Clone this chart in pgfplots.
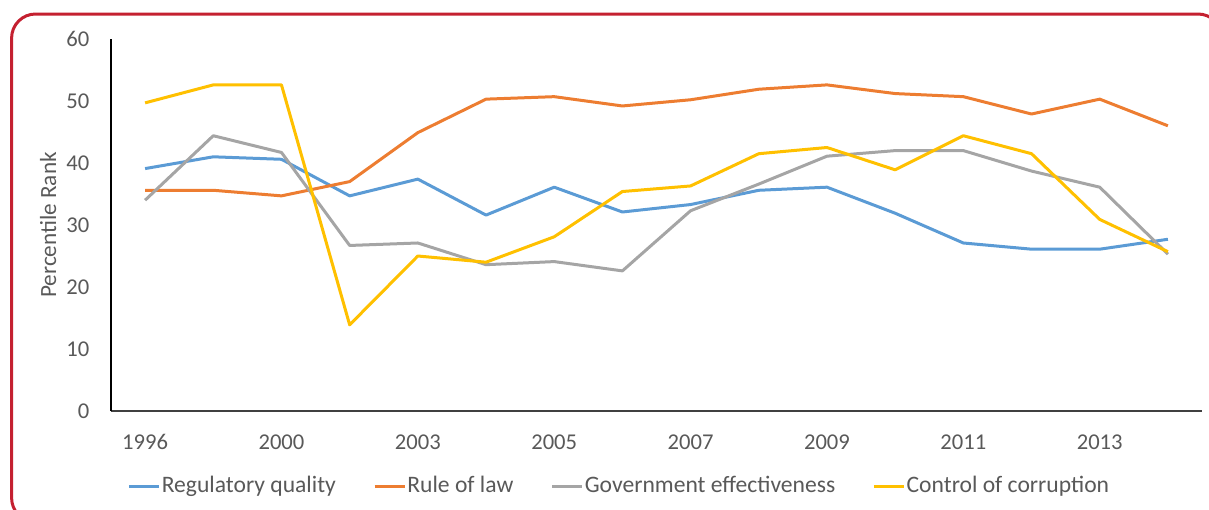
\documentclass[border=0pt]{standalone}
\usepackage{fontspec}
\setmainfont{Carlito}
\usepackage{pgfplots}
\pgfplotsset{compat=1.18}
\definecolor{cblue}{HTML}{5B9BD5}
\definecolor{corange}{HTML}{ED7D31}
\definecolor{cgray}{HTML}{A5A5A5}
\definecolor{cyellow}{HTML}{FFC000}
\definecolor{ctext}{HTML}{595959}
\definecolor{cframe}{HTML}{C42030}
\definecolor{caxis}{HTML}{404040}
\begin{document}
\begin{tikzpicture}
\useasboundingbox (0pt,0pt) rectangle (604.5pt,-254.5pt);
\begin{scope}
\clip (0pt,0pt) rectangle (604.5pt,-254.5pt);
\draw[cframe, line width=1.5pt, rounded corners=12pt] (5.8pt,-7pt) rectangle (611pt,-261pt);
\end{scope}
\begin{axis}[
  at={(55.5pt,-205.5pt)}, anchor=south west,
  width=545.5pt, height=186pt, scale only axis,
  xmin=-0.5, xmax=15.5, ymin=0, ymax=60,
  axis x line=bottom, axis y line=left,
  x axis line style={draw=caxis, line width=1pt, -},
  y axis line style={draw=black, line width=0.6pt, -},
  xtick={0,2,4,6,8,10,12,14},
  xticklabels={1996,2000,2003,2005,2007,2009,2011,2013},
  ytick={0,10,20,30,40,50,60},
  /pgf/number format/assume math mode=true,
  major tick length=0pt,
  tick label style={font=\fontsize{11.3}{13}\selectfont, text=ctext},
  yticklabel style={xshift=-7.3pt},
  xticklabel style={yshift=-8.3pt},
  ylabel={Percentile Rank},
  ylabel style={at={(axis description cs:-0.0577,0.5)}, anchor=center, font=\fontsize{11.6}{13}\selectfont, text=ctext},
  legend style={at={(0.4656,-0.2016)}, anchor=center, draw=none, fill=none,
    font=\fontsize{11.8}{13}\selectfont, text=ctext, nodes={inner xsep=0.6pt},
    /tikz/every even column/.append style={column sep=18pt}},
  legend columns=4,
  legend image code/.code={\draw[#1, line width=1.5pt] (0pt,0pt) -- (15pt,0pt);},
  every axis plot/.append style={line width=1.5pt, line join=round},
]
\addplot[cblue] coordinates {(0,39.1)(1,41.0)(2,40.6)(3,34.7)(4,37.4)(5,31.6)(6,36.1)(7,32.1)(8,33.3)(9,35.6)(10,36.1)(11,31.9)(12,27.1)(13,26.1)(14,26.1)(15,27.7)};
\addlegendentry{Regulatory quality}
\addplot[corange] coordinates {(0,35.6)(1,35.6)(2,34.7)(3,37.0)(4,44.9)(5,50.3)(6,50.7)(7,49.2)(8,50.2)(9,51.9)(10,52.6)(11,51.2)(12,50.7)(13,47.9)(14,50.3)(15,46.0)};
\addlegendentry{Rule of law}
\addplot[cgray] coordinates {(0,34.0)(1,44.4)(2,41.7)(3,26.7)(4,27.1)(5,23.6)(6,24.1)(7,22.6)(8,32.3)(9,36.6)(10,41.1)(11,42.0)(12,42.0)(13,38.7)(14,36.1)(15,25.3)};
\addlegendentry{Government effectiveness}
\addplot[cyellow] coordinates {(0,49.7)(1,52.6)(2,52.6)(3,13.9)(4,25.0)(5,24.0)(6,28.1)(7,35.4)(8,36.3)(9,41.5)(10,42.5)(11,38.9)(12,44.4)(13,41.5)(14,30.9)(15,25.7)};
\addlegendentry{Control of corruption}
\end{axis}
\end{tikzpicture}
\end{document}
